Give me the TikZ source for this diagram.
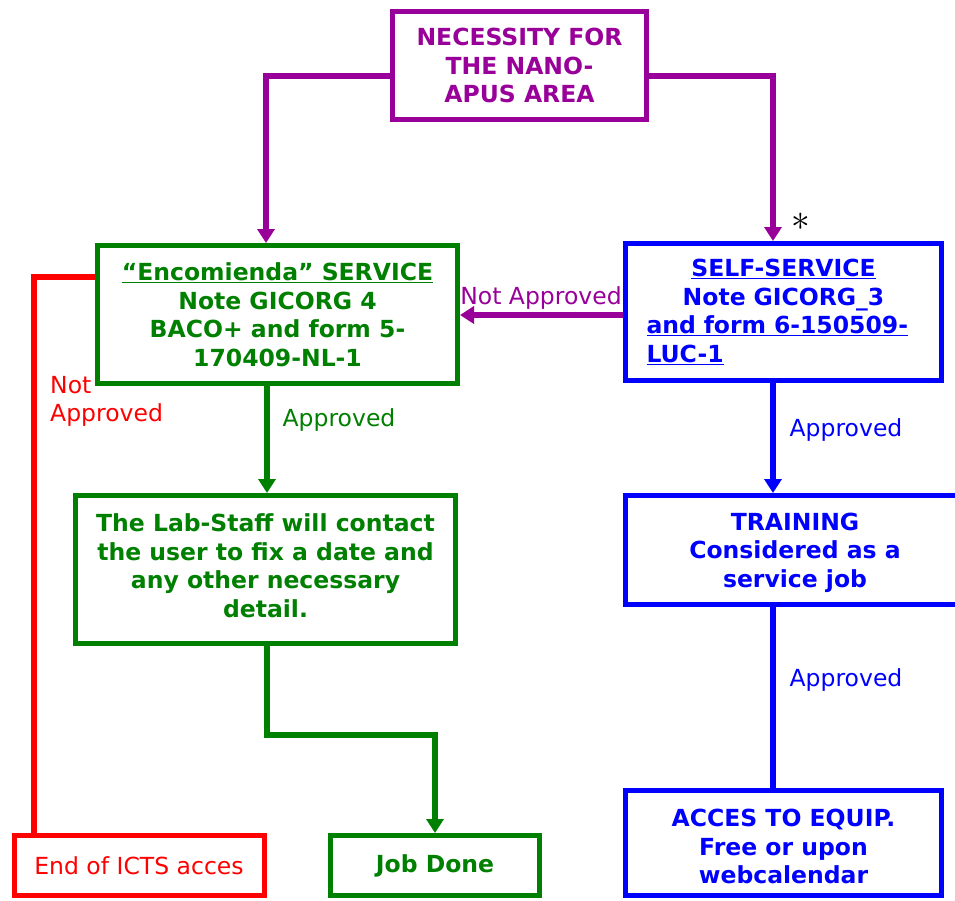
\documentclass[tikz,border=0pt]{standalone}
\usepackage{fontspec}
\setmainfont{DejaVu Sans}
\usetikzlibrary{arrows.meta}
\definecolor{cpur}{HTML}{990099}
\definecolor{cgrn}{HTML}{008000}
\definecolor{cblu}{HTML}{0000FF}
\definecolor{cred}{HTML}{FF0000}
\begin{document}
\begin{tikzpicture}[x=1pt,y=-1pt,
  box/.style={draw=#1, text=#1, fill=white, line width=5pt, inner sep=0pt, align=center,
    font=\bfseries\fontsize{23.5}{28.5}\selectfont},
  lbl/.style={font=\fontsize{23.5}{28}\selectfont, inner sep=0pt},
  conn/.style={line width=5.5pt},
  arr/.style={conn, -{Triangle[length=14pt,width=17pt]}}]
\fill[white] (0,0) rectangle (955,900);
\useasboundingbox (0,0) rectangle (955,900);

\node[box=cpur, minimum width=254, minimum height=108] (need) at (519.5,65.5)
  {NECESSITY FOR\\THE NANO-\\APUS AREA};
\node[box=cgrn, minimum width=360, minimum height=138] (enc) at (277.5,314.5)
  {\underline{“Encomienda” SERVICE}\\Note GICORG 4\\BACO+ and form 5-\\170409-NL-1};
\node[box=cblu, minimum width=316, minimum height=137, text width=274, align=left] (self) at (783.5,312)
  {\makebox[\linewidth][c]{\underline{SELF-SERVICE}}\\\makebox[\linewidth][c]{Note GICORG\_3}\\\underline{and form 6-150509-}\\\underline{LUC-1}};
\node[box=cgrn, minimum width=380, minimum height=148] (lab) at (265.5,569.5)
  {The Lab-Staff will contact\\the user to fix a date and\\any other necessary\\detail.\\[-20.5pt]};
\node[box=cblu, minimum width=339, minimum height=109] (train) at (795,550)
  {\rule{0pt}{6pt}\\[-12pt]TRAINING\\Considered as a\\service job};
\node[box=cblu, minimum width=316, minimum height=105] (acc) at (783.5,843)
  {\rule{0pt}{6pt}\\[-10pt]ACCES TO EQUIP.\\Free or upon\\webcalendar};
\node[box=cred, font=\fontsize{23.5}{28}\selectfont, minimum width=250, minimum height=60] (end) at (139,865.5)
  {End of ICTS acces};
\node[box=cgrn, minimum width=209, minimum height=60] (done) at (435,865.5)
  {Job Done};

\draw[arr, cpur] (need.west |- 0,76) -| (266,0 |- enc.north);
\draw[arr, cpur] (need.east |- 0,76) -| (773,0 |- self.north);
\node[font=\fontsize{24}{24}\selectfont, scale=1.5, inner sep=0pt] (ast) at (801,222) {$\ast$};

\draw[arr, cpur] (self.west |- 0,315) -- (enc.east |- 0,315);
\node[lbl, cpur] (lna) at (541,298) {Not Approved};

\draw[arr, cgrn] (267,0 |- enc.south) -- (267,0 |- lab.north);
\node[lbl, cgrn] (la1) at (339,420) {Approved};

\draw[arr, cblu] (773,0 |- self.south) -- (773,0 |- train.north);
\node[lbl, cblu] (la2) at (846,430) {Approved};
\draw[conn, cblu] (773,0 |- train.south) -- (773,0 |- acc.north);
\node[lbl, cblu] (la3) at (846,680) {Approved};

\draw[arr, cgrn] (267,0 |- lab.south) |- (done.north |- 0,735) -- (done.north);

\draw[conn, cred] (enc.west |- 0,277) -| (34,0 |- end.north);
\node[lbl, cred, anchor=west, align=left] (lna2) at (50,401) {Not\\Approved};
\end{tikzpicture}
\end{document}
